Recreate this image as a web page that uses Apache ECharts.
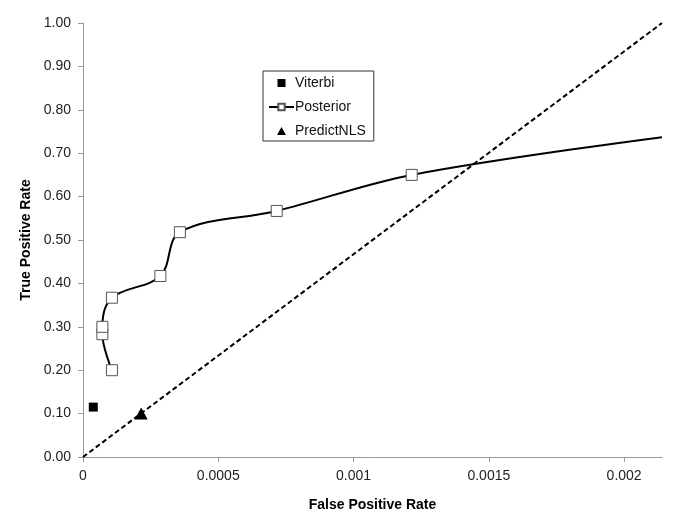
<!DOCTYPE html>
<html>
<head>
<meta charset="utf-8">
<script src="https://cdn.jsdelivr.net/npm/echarts@6/dist/echarts.min.js"></script>
<style>
  html, body { margin: 0; padding: 0; background: #fff; }
  #chart { width: 685px; height: 523px; }
</style>
</head>
<body>
<div id="chart"></div>
<script>
// x range of the plot (axis ends a bit past 0.002)
const xMax = 0.00214;

// tick values
const xTicks = [0, 0.0005, 0.001, 0.0015, 0.002];
const yTicks = [0, 0.1, 0.2, 0.3, 0.4, 0.5, 0.6, 0.7, 0.8, 0.9, 1.0];

// Posterior curve (FPR, TPR)
const posteriorX = [0.000107, 0.0000716, 0.0000716, 0.000107, 0.000286, 0.000358, 0.000716, 0.001215];
const posteriorY = [0.200, 0.283, 0.300, 0.367, 0.417, 0.518, 0.567, 0.650];
// where the curve leaves the plot on the right
const posteriorEnd = [xMax, 0.737];

const viterbi = [[0.000038, 0.115]];
const predictNLS = [[0.000215, 0.100]];
const diagonal = [[0, 0], [xMax, 1.0]];

const font = "'Liberation Sans', Arial, sans-serif";

const posteriorData = posteriorX.map((x, i) => [x, posteriorY[i]]);
posteriorData.push({ value: posteriorEnd, symbol: "none" });

const chart = echarts.init(document.getElementById("chart"));

chart.setOption({
  animation: false,
  backgroundColor: "#fff",
  grid: { left: 83, right: 23, top: 23, bottom: 66 },
  legend: {
    left: 263,
    top: 71,
    orient: "vertical",
    itemGap: 10,
    itemWidth: 25,
    itemHeight: 8,
    symbolKeepAspect: true,
    padding: [5, 8, 3, 5],
    borderColor: "#333",
    borderWidth: 1,
    textStyle: { fontFamily: font, fontSize: 14, color: "#111", padding: [0, 0, 0, -4] },
    data: [
      { name: "Viterbi", icon: "path://M0,0 L10,0 L10,10 L0,10 Z", itemStyle: { color: "#000", opacity: 1 } },
      { name: "Posterior" },
      { name: "PredictNLS", icon: "path://M5,0 L10,9 L0,9 Z", itemStyle: { color: "#000", opacity: 1 } }
    ]
  },
  xAxis: {
    type: "value",
    min: 0,
    max: xMax,
    name: "False Positive Rate",
    nameLocation: "middle",
    nameGap: 41,
    nameTextStyle: { fontFamily: font, fontSize: 14, fontWeight: "bold", color: "#000" },
    axisLine: { show: true, lineStyle: { color: "#999", width: 1 } },
    axisTick: { show: true, length: 5, lineStyle: { color: "#999" }, customValues: xTicks },
    axisLabel: {
      fontFamily: font, fontSize: 14, color: "#222", margin: 12,
      customValues: xTicks,
      formatter: (v) => v === 0 ? "0" : String(+v.toFixed(4))
    },
    splitLine: { show: false }
  },
  yAxis: {
    type: "value",
    min: 0,
    max: 1,
    interval: 0.1,
    name: "True Positive Rate",
    nameLocation: "middle",
    nameGap: 50,
    nameTextStyle: { fontFamily: font, fontSize: 14, fontWeight: "bold", color: "#000" },
    axisLine: { show: true, lineStyle: { color: "#999", width: 1 } },
    axisTick: { show: true, length: 5, lineStyle: { color: "#999" } },
    axisLabel: {
      fontFamily: font, fontSize: 14, color: "#222", margin: 12,
      formatter: (v) => v.toFixed(2)
    },
    splitLine: { show: false }
  },
  series: [
    {
      name: "diagonal",
      type: "line",
      data: diagonal,
      symbol: "none",
      lineStyle: { color: "#000", width: 2, type: [5, 3] },
      silent: true,
      z: 1
    },
    {
      name: "Posterior",
      type: "line",
      data: posteriorData,
      smooth: 0.35,
      symbol: "rect",
      symbolSize: 11,
      showAllSymbol: true,
      lineStyle: { color: "#000", width: 2 },
      itemStyle: { color: "#fff", borderColor: "#555", borderWidth: 1 },
      z: 3
    },
    {
      name: "Viterbi",
      type: "scatter",
      data: viterbi,
      symbol: "rect",
      symbolSize: 9,
      itemStyle: { color: "#000", opacity: 1 },
      z: 4
    },
    {
      name: "PredictNLS",
      type: "scatter",
      data: predictNLS,
      symbol: "triangle",
      symbolSize: [13, 12],
      itemStyle: { color: "#000", opacity: 1 },
      z: 4
    }
  ]
});
</script>
</body>
</html>
